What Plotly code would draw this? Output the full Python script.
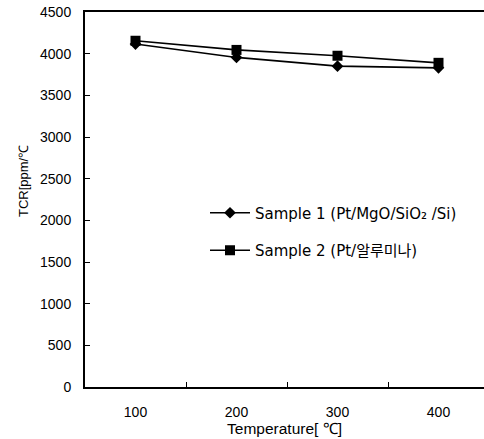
import plotly.graph_objects as go

temps = ["100", "200", "300", "400"]
sample1 = [4115, 3955, 3850, 3830]
sample2 = [4155, 4045, 3975, 3890]
y_ticks = [0, 500, 1000, 1500, 2000, 2500, 3000, 3500, 4000, 4500]

xpos = list(range(len(temps)))

L, T, B, W, H = 85, 12, 52, 484, 439
PW = W - L
PH = H - T - B

fig = go.Figure()
fig.add_trace(go.Scatter(
    x=xpos, y=sample1, mode="lines+markers",
    name="Sample 1 (Pt/MgO/SiO\u2082 /Si)", legendgroup="a",
    line=dict(color="black", width=1.6),
    marker=dict(symbol="diamond", size=9, color="black"),
))
fig.add_trace(go.Scatter(
    x=xpos, y=sample2, mode="lines+markers",
    name="Sample 2 (Pt/알루미나)", legendgroup="b",
    line=dict(color="black", width=1.6),
    marker=dict(symbol="square", size=10, color="black"),
))

fig.update_layout(
    width=W, height=H,
    margin=dict(l=L, r=0, t=T, b=B),
    paper_bgcolor="white", plot_bgcolor="white",
    font=dict(family="Liberation Sans, Arial", size=14, color="black"),
    showlegend=True,
    legend=dict(
        x=(205 - L) / PW, y=0.508, xanchor="left", yanchor="top",
        bgcolor="rgba(0,0,0,0)", borderwidth=0,
        font=dict(family="DejaVu Sans, Noto Sans CJK KR", size=15),
        tracegroupgap=15, itemwidth=40,
    ),
    xaxis=dict(
        range=[-0.5, -0.5 + PW / 101], automargin=False,
        tickvals=xpos, ticktext=temps, ticks="",
        minor=dict(tickvals=[0.5, 1.5, 2.5], ticks="inside", ticklen=5,
                   tickcolor="black", showgrid=False),
        showline=True, linecolor="black", linewidth=2, mirror=True,
        showgrid=False, zeroline=False, ticklabelstandoff=11,
        title=dict(text="Temperature[ ℃]", standoff=0, font=dict(size=15.5)),
    ),
    yaxis=dict(
        range=[0, 4500], tickvals=y_ticks, automargin=False,
        ticks="inside", ticklen=5, tickcolor="black",
        showline=True, linecolor="black", linewidth=2,
        showgrid=False, zeroline=False,
        ticklabelstandoff=9, ticklabeloverflow="allow",
    ),
    annotations=[dict(
        text="TCR[ppm/℃", textangle=-90,
        xref="paper", yref="paper",
        x=(23 - L) / PW, y=(H - B - 181) / PH,
        xanchor="center", yanchor="middle",
        showarrow=False, font=dict(size=13),
    )],
)

fig.write_html("out.html", config={"displayModeBar": False},
               post_script="document.body.style.margin='0';")
